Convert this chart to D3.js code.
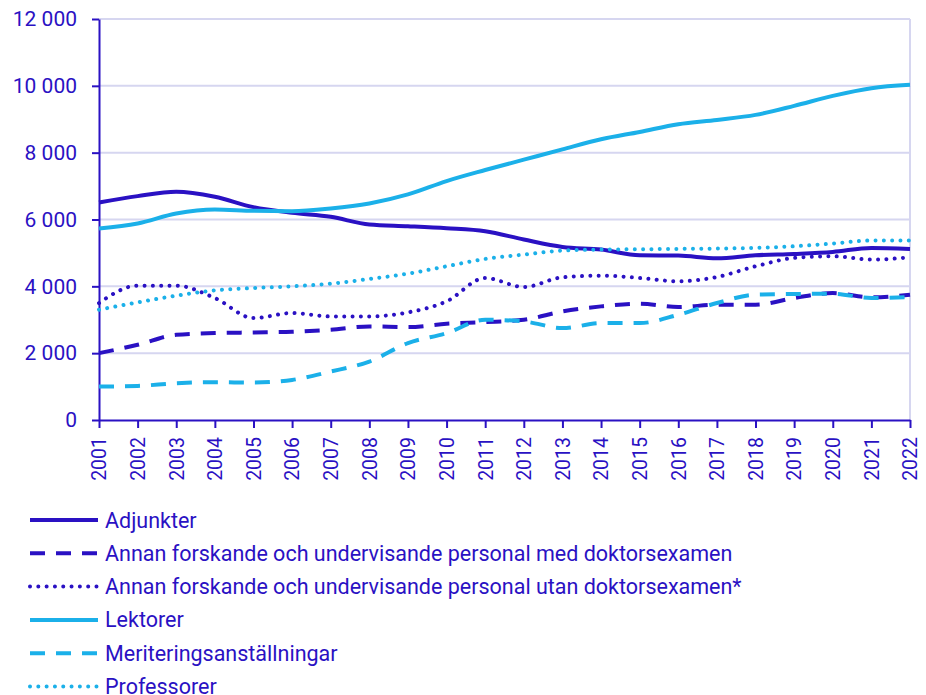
<!DOCTYPE html>
<html>
<head>
<meta charset="utf-8">
<script src="https://cdn.jsdelivr.net/npm/d3@7"></script>
<style>
  body { margin: 0; background: #fff; }
  text { font-family: Roboto, "Noto Sans", sans-serif; }
</style>
</head>
<body>
<svg id="chart" width="926" height="695"></svg>
<script>
// years on the x axis
var years = d3.range(2001, 2023).map(String);

var adjunkter    = [6510, 6700, 6830, 6680, 6370, 6200, 6080, 5850, 5800, 5740, 5650, 5400, 5180, 5100, 4930, 4920, 4840, 4930, 4970, 5030, 5150, 5120];
var annanMed     = [2000, 2250, 2550, 2600, 2620, 2640, 2700, 2800, 2780, 2880, 2930, 3000, 3250, 3400, 3480, 3380, 3450, 3450, 3650, 3800, 3670, 3750];
var annanUtan    = [3500, 4020, 4020, 3650, 3050, 3200, 3100, 3100, 3220, 3550, 4250, 3980, 4270, 4320, 4250, 4150, 4280, 4600, 4850, 4900, 4800, 4870];
var lektorer     = [5730, 5880, 6180, 6300, 6260, 6250, 6330, 6480, 6750, 7150, 7480, 7790, 8100, 8400, 8620, 8850, 8980, 9130, 9400, 9700, 9930, 10030];
var meritering   = [1000, 1020, 1100, 1130, 1120, 1200, 1450, 1750, 2300, 2600, 3000, 2950, 2750, 2900, 2900, 3150, 3500, 3750, 3770, 3780, 3650, 3680];
var professorer  = [3300, 3520, 3720, 3880, 3950, 4000, 4080, 4220, 4380, 4600, 4820, 4950, 5070, 5100, 5110, 5120, 5130, 5150, 5200, 5280, 5370, 5370];

var yTicks = [0, 2000, 4000, 6000, 8000, 10000, 12000];

var dark = "#2a11c3";
var light = "#1bb0e9";
var grid = "#d6d6f0";

var series = [
    {name: "Adjunkter", values: adjunkter, color: dark, dash: null},
    {name: "Annan forskande och undervisande personal med doktorsexamen", values: annanMed, color: dark, dash: "15 11"},
    {name: "Annan forskande och undervisande personal utan doktorsexamen*", values: annanUtan, color: dark, dash: "0.01 8.3"},
    {name: "Lektorer", values: lektorer, color: light, dash: null},
    {name: "Meriteringsanställningar", values: meritering, color: light, dash: "15 11"},
    {name: "Professorer", values: professorer, color: light, dash: "0.01 8.3"}
];

var svg = d3.select("#chart");
var plotLeft = 99, plotRight = 910, plotTop = 19, plotBottom = 420;

var x = d3.scalePoint().domain(years).range([plotLeft, plotRight]);
var y = d3.scaleLinear().domain([0, 12000]).range([plotBottom, plotTop]);

var fmt = d3.formatLocale({decimal: ",", thousands: "\u00a0", grouping: [3], currency: ["", " kr"]}).format(",");

function isDotted(d) { return d.dash && d.dash[0] === "0"; }

// grid lines
svg.append("g")
    .selectAll("line")
    .data(yTicks.slice(1))
    .enter()
    .append("line")
    .attr("x1", plotLeft).attr("x2", plotRight)
    .attr("y1", function(d) { return y(d); })
    .attr("y2", function(d) { return y(d); })
    .attr("stroke", grid)
    .attr("stroke-width", 2);

svg.append("line")
    .attr("x1", plotRight).attr("x2", plotRight)
    .attr("y1", plotTop).attr("y2", plotBottom)
    .attr("stroke", grid)
    .attr("stroke-width", 2);

// y axis
var yAxis = svg.append("g")
    .attr("transform", "translate(" + plotLeft + ",0)")
    .call(d3.axisLeft(y).tickValues(yTicks).tickFormat(fmt).tickSize(7).tickSizeOuter(0).tickPadding(15));
yAxis.select(".domain").attr("stroke", dark).attr("stroke-width", 2);
yAxis.selectAll(".tick line").attr("stroke", dark).attr("stroke-width", 2);
yAxis.selectAll("text")
    .attr("fill", dark)
    .attr("font-size", 21)
    .style("font-family", "Roboto, sans-serif");

// x axis
var xAxis = svg.append("g")
    .attr("transform", "translate(0," + plotBottom + ")")
    .call(d3.axisBottom(x).tickSize(8).tickSizeOuter(0));
xAxis.select(".domain").attr("stroke", dark).attr("stroke-width", 2);
xAxis.selectAll(".tick line").attr("stroke", dark).attr("stroke-width", 2);
xAxis.selectAll("text")
    .attr("fill", dark)
    .attr("font-size", 19.5)
    .style("font-family", "Roboto, sans-serif")
    .attr("transform", "rotate(-90)")
    .attr("text-anchor", "end")
    .attr("x", -17)
    .attr("y", 0)
    .attr("dy", "0.35em");

// lines
var line = d3.line()
    .x(function(d, i) { return x(years[i]); })
    .y(function(d) { return y(d); })
    .curve(d3.curveMonotoneX);

svg.append("g")
    .selectAll("path")
    .data(series)
    .enter()
    .append("path")
    .attr("d", function(d) { return line(d.values); })
    .attr("fill", "none")
    .attr("stroke", function(d) { return d.color; })
    .attr("stroke-width", 4)
    .attr("stroke-linecap", function(d) { return isDotted(d) ? "round" : "butt"; })
    .attr("stroke-dasharray", function(d) { return d.dash; });

// legend
var legend = svg.append("g")
    .selectAll("g")
    .data(series)
    .enter()
    .append("g")
    .attr("transform", function(d, i) { return "translate(28," + (520 + i * 33.3) + ")"; });

legend.append("line")
    .attr("x1", 2).attr("x2", 70)
    .attr("stroke", function(d) { return d.color; })
    .attr("stroke-width", 4)
    .attr("stroke-linecap", function(d) { return isDotted(d) ? "round" : "butt"; })
    .attr("stroke-dasharray", function(d) { return d.dash; });

legend.append("text")
    .attr("x", 77)
    .attr("dy", "0.35em")
    .attr("fill", dark)
    .attr("font-size", 21.5)
    .text(function(d) { return d.name; });
</script>
</body>
</html>
